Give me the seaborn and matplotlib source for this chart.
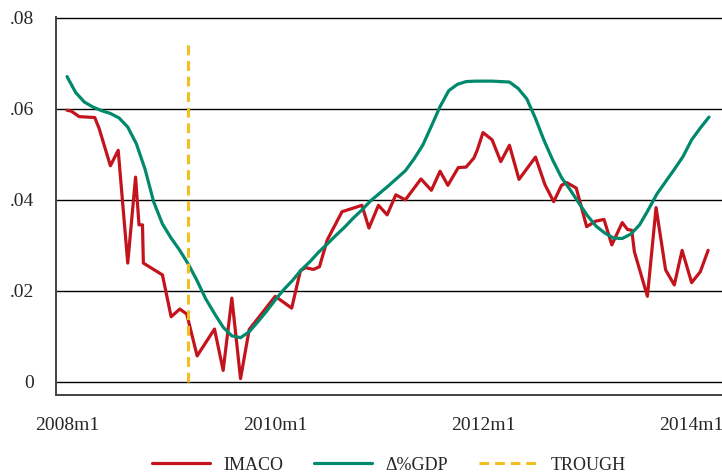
import matplotlib
matplotlib.use("Agg")
import matplotlib.pyplot as plt
import matplotlib.ticker as mticker
import numpy as np
import pandas as pd
import seaborn as sns

# Time axis: months elapsed since 2008m1
month_ticks = [0, 24, 48, 72]
month_tick_labels = ["2008m1", "2010m1", "2012m1", "2014m1"]
value_ticks = [0, 0.02, 0.04, 0.06, 0.08]

# IMACO index (observation time in months since 2008m1, value)
imaco_t = [0.0, 0.5, 1.4, 3.2, 3.7, 5.0, 5.9, 7.0, 7.9, 8.3, 8.7, 8.8, 11.0,
           12.0, 13.0, 13.8, 15.0, 17.0, 18.0, 19.0, 20.0, 21.0, 24.0, 25.9,
           26.9, 27.5, 28.4, 29.1, 30.0, 31.7, 34.0, 34.8, 35.9, 36.9, 37.9,
           39.0, 40.8, 42.0, 43.0, 43.9, 45.1, 46.0, 46.9, 47.3, 47.95, 49.0,
           50.0, 51.0, 52.1, 54.0, 55.1, 56.1, 57.0, 57.6, 58.7, 59.9, 60.9,
           61.9, 62.8, 64.0, 64.6, 65.1, 65.4, 66.9, 67.9, 69.0, 70.0, 70.9,
           72.0, 73.0, 73.9]
imaco_v = [0.0597, 0.0595, 0.0583, 0.0581, 0.0557, 0.0475, 0.0509, 0.0261,
           0.0450, 0.0345, 0.0345, 0.0261, 0.0235, 0.0143, 0.0160, 0.0149,
           0.0057, 0.0116, 0.0025, 0.0184, 0.0007, 0.0115, 0.0188, 0.0162,
           0.0244, 0.0251, 0.0247, 0.0253, 0.0312, 0.0374, 0.0388, 0.0338,
           0.0388, 0.0367, 0.0411, 0.0400, 0.0446, 0.0421, 0.0463, 0.0432,
           0.0471, 0.0472, 0.0492, 0.0510, 0.0548, 0.0532, 0.0484, 0.0520,
           0.0445, 0.0494, 0.0433, 0.0396, 0.0432, 0.0438, 0.0426, 0.0341,
           0.0353, 0.0357, 0.0301, 0.0350, 0.0335, 0.0333, 0.0286, 0.0188,
           0.0383, 0.0246, 0.0213, 0.0289, 0.0218, 0.0242, 0.0289]

# GDP growth, monthly from 2008m1 to 2014m3
gdp_v = [0.0671, 0.0636, 0.0615, 0.0604, 0.0596, 0.0590, 0.0580, 0.0560,
         0.0523, 0.0467, 0.0395, 0.0347, 0.0316, 0.0289, 0.0258, 0.0222,
         0.0182, 0.0150, 0.0120, 0.0101, 0.0097, 0.0110, 0.0132, 0.0155,
         0.0180, 0.0203, 0.0223, 0.0246, 0.0264, 0.0285, 0.0303, 0.0322,
         0.0340, 0.0360, 0.0378, 0.0398, 0.0414, 0.0430, 0.0447, 0.0464,
         0.0490, 0.0520, 0.0562, 0.0605, 0.0640, 0.0654, 0.0660, 0.0661,
         0.0661, 0.0661, 0.0660, 0.0659, 0.0645, 0.0622, 0.0579, 0.0530,
         0.0487, 0.0449, 0.0422, 0.0393, 0.0365, 0.0342, 0.0327, 0.0316,
         0.0315, 0.0325, 0.0345, 0.0378, 0.0413, 0.0440, 0.0467, 0.0495,
         0.0532, 0.0558, 0.0582]
gdp_t = list(range(len(gdp_v)))

# Business-cycle trough (2009m3)
trough_t = [14, 14]
trough_v = [0.0, 0.075]

imaco = pd.DataFrame({"t": imaco_t, "v": imaco_v})
gdp = pd.DataFrame({"t": gdp_t, "v": gdp_v})
trough = pd.DataFrame({"t": trough_t, "v": trough_v})

sns.set_style("white")
plt.rcParams["font.family"] = ["Liberation Serif", "DejaVu Serif"]

RED = "#c3141e"
GREEN = "#00896c"
YELLOW = "#f0c020"
DASH = (3.2, 1.9)

fig = plt.figure(figsize=(7.22, 4.76), dpi=100)
ax = fig.add_axes([56 / 722, 1 - 395 / 476, 1 - 56 / 722, (395 - 17) / 476])

sns.lineplot(data=imaco, x="t", y="v", ax=ax, color=RED, lw=2.3,
             estimator=None, sort=False, label="IMACO", zorder=3)
sns.lineplot(data=gdp, x="t", y="v", ax=ax, color=GREEN, lw=2.3,
             estimator=None, sort=False, label="Δ%GDP", zorder=4)
sns.lineplot(data=trough, x="t", y="v", ax=ax, color=YELLOW, lw=2.2,
             estimator=None, sort=False, label="TROUGH", zorder=5)
ax.lines[-1].set_dashes(DASH)

ax.set_xlim(-1.27, 75.5)
ax.set_ylim(-0.0029, 0.0802)

ax.set_xticks(month_ticks)
ax.set_xticklabels(month_tick_labels)
ax.set_yticks(value_ticks)
ax.yaxis.set_major_formatter(
    mticker.FuncFormatter(lambda v, _: "0" if v == 0 else f"{v:.2f}".lstrip("0")))

ax.grid(axis="y", color="black", lw=1.0, zorder=1)
ax.grid(axis="x", visible=False)
ax.tick_params(axis="both", direction="out", length=11, width=1.0,
               color="#333333", labelsize=14, pad=5)
for side in ("top", "right"):
    ax.spines[side].set_visible(False)
for side in ("left", "bottom"):
    ax.spines[side].set_color("#444444")
    ax.spines[side].set_linewidth(1.4)
ax.set_xlabel("")
ax.set_ylabel("")

handles, labels = ax.get_legend_handles_labels()
ax.get_legend().remove()
handles[2].set_dashes(DASH)
fig.legend(handles, labels, loc="center", bbox_to_anchor=(389 / 722, 1 - 465 / 476),
           ncol=3, frameon=False, fontsize=13, handlelength=3.2,
           handletextpad=0.75, columnspacing=1.7)

fig.savefig("out.png", dpi=100)
